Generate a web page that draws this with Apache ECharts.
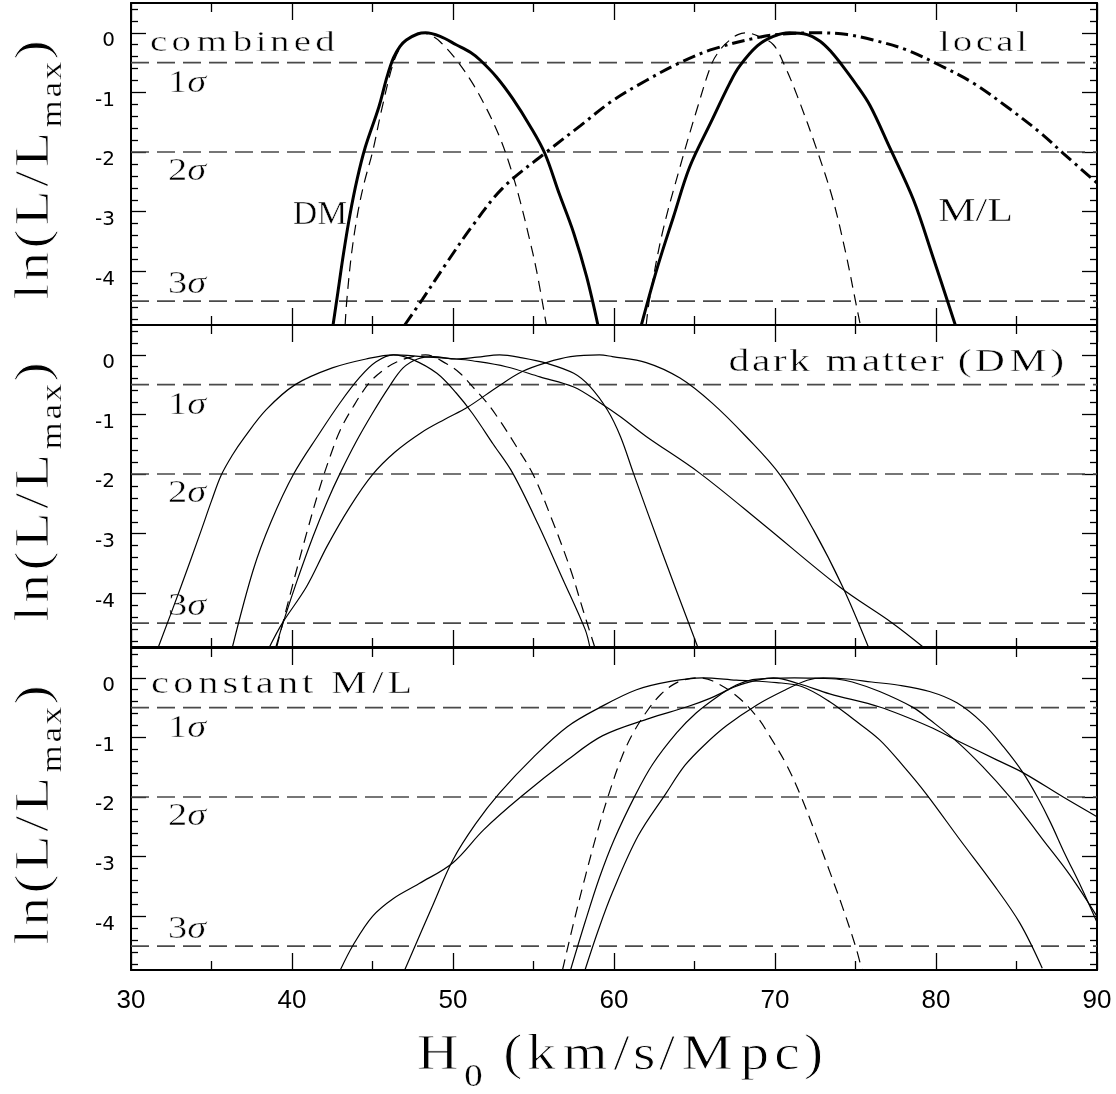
<!DOCTYPE html>
<html><head><meta charset="utf-8">
<script src="https://cdn.jsdelivr.net/npm/echarts@6.0.0/dist/echarts.min.js"></script>
<style>html,body{margin:0;padding:0;background:#fff}#c{width:1116px;height:1094px}</style>
</head><body><div id="c"></div>
<script>
// ---------- tick labels ----------
const xTickLabels = ['30','40','50','60','70','80','90'];
const yTickValues = [0,-1,-2,-3,-4];
const yTickLabels = ['0','-1','-2','-3','-4'];
const yMinorTicks = [0.4,0.2,-0.2,-0.4,-0.6,-0.8,-1.2,-1.4,-1.6,-1.8,-2.2,-2.4,-2.6,-2.8,-3.2,-3.4,-3.6,-3.8,-4.2,-4.4,-4.6,-4.8];
const sigmaLevels = [-0.5,-2,-4.5];
const sigmaNames = ['1','2','3'];

// ---------- top panel: combined / local ----------
const topDMCombined = [[42.55,-4.9],[42.85,-4.35],[43.2,-3.7],[43.6,-3.05],[44.05,-2.45],[44.55,-1.92],[45.4,-1.24],[45.9,-0.74],[46.3,-0.42],[46.7,-0.23],[47.1,-0.12],[47.8,-0.02],[48.3,0],[49.2,-0.06],[50.2,-0.2],[51.1,-0.33],[51.7,-0.46],[52.7,-0.74],[53.7,-1.1],[54.8,-1.57],[55.7,-2.02],[56.6,-2.7],[57.5,-3.36],[58.3,-4.09],[59.0,-4.9]];
const topDMDash = [[43.3,-4.9],[43.4,-4.5],[43.7,-3.7],[44.1,-3.0],[44.5,-2.5],[45.0,-2.0],[45.6,-1.25],[46.3,-0.5],[46.8,-0.22],[47.4,-0.06],[48.0,0],[48.6,-0.04],[49.2,-0.15],[50.2,-0.45],[51.2,-0.84],[52.1,-1.28],[52.9,-1.75],[53.5,-2.2],[54.1,-2.75],[54.7,-3.4],[55.2,-4.0],[55.8,-4.9]];
const topLocal = [[47.0,-4.9],[48.1,-4.47],[49.6,-3.86],[51.2,-3.24],[53.1,-2.6],[55.8,-2.0],[57.9,-1.56],[59.9,-1.14],[62.0,-0.8],[64.1,-0.5],[66.2,-0.27],[69.1,-0.07],[71.0,-0.01],[72.8,0],[74.5,-0.03],[76.1,-0.12],[78.2,-0.29],[80.2,-0.54],[82.3,-0.84],[84.4,-1.24],[86.5,-1.68],[87.9,-2.02],[90,-2.52]];
const topMLCombined = [[61.7,-4.9],[62.7,-3.93],[63.7,-3.08],[64.7,-2.25],[66.0,-1.51],[67.2,-0.84],[67.8,-0.56],[68.9,-0.22],[69.9,-0.06],[70.9,0],[72.0,-0.03],[72.8,-0.14],[73.5,-0.32],[74.1,-0.52],[75.0,-0.85],[75.9,-1.22],[77.1,-1.91],[78.6,-2.8],[79.8,-3.75],[81.2,-4.9]];
const topMLDash = [[62.0,-4.9],[62.2,-4.48],[63.0,-3.36],[64.1,-2.25],[65.2,-1.24],[66.1,-0.5],[66.7,-0.25],[67.2,-0.12],[67.7,-0.03],[68.2,0],[69.0,-0.06],[69.9,-0.2],[70.6,-0.55],[71.4,-1.07],[72.6,-1.96],[73.6,-2.8],[74.4,-3.7],[75.0,-4.5],[75.3,-4.9]];

// ---------- middle panel: dark matter ----------
const midA = [[31.7,-4.9],[33.1,-3.89],[34.3,-2.99],[35.0,-2.45],[35.6,-2.02],[36.3,-1.68],[37.0,-1.4],[38.4,-0.92],[40.2,-0.5],[42.5,-0.22],[44.6,-0.07],[46.3,0],[48.1,-0.03],[50.2,-0.07],[51.2,-0.1],[53.3,-0.2],[55.4,-0.37],[57.5,-0.54],[59.1,-0.8],[60.4,-1.04],[62.0,-1.37],[65.3,-1.98],[69.3,-2.85],[74.0,-3.89],[77.3,-4.5],[79.2,-4.9]];
const midB = [[36.3,-4.9],[37.6,-3.6],[38.7,-2.8],[40.1,-2.0],[41.7,-1.32],[43.0,-0.8],[44.2,-0.38],[45.2,-0.12],[46.3,0],[47.5,-0.08],[49.0,-0.31],[50.2,-0.64],[51.2,-0.98],[52.5,-1.5],[53.7,-1.98],[55.3,-2.85],[56.8,-3.75],[58.2,-4.6],[58.5,-4.9]];
const midDash = [[39.05,-4.9],[40.0,-3.9],[40.9,-3.0],[41.7,-2.25],[42.4,-1.68],[43.0,-1.26],[43.8,-0.87],[44.8,-0.47],[45.7,-0.25],[46.5,-0.12],[47.5,-0.03],[48.3,0],[49.6,-0.15],[50.4,-0.3],[51.2,-0.53],[52.1,-0.8],[52.9,-1.1],[53.9,-1.52],[55.0,-2.02],[56.2,-2.8],[57.3,-3.6],[58.1,-4.3],[58.8,-4.9]];
const midC = [[39.0,-4.9],[39.5,-4.45],[40.3,-3.8],[41.3,-3.05],[42.2,-2.45],[43.0,-1.98],[44.0,-1.45],[45.0,-0.98],[46.0,-0.55],[46.9,-0.22],[47.8,-0.07],[48.8,-0.03],[50.2,-0.07],[51.5,-0.04],[52.9,0],[54.3,-0.05],[55.8,-0.14],[57.5,-0.31],[58.5,-0.53],[59.6,-0.93],[60.4,-1.37],[61.2,-1.98],[63.0,-3.32],[65.2,-4.9]];
const midD = [[38.6,-4.9],[39.4,-4.5],[40.9,-3.89],[42.2,-3.2],[43.6,-2.55],[45.0,-2.01],[46.4,-1.63],[48.0,-1.31],[49.5,-1.08],[50.9,-0.88],[52.8,-0.53],[54.3,-0.28],[55.8,-0.13],[57.3,-0.03],[59.1,0],[59.9,-0.03],[62.0,-0.13],[64.1,-0.39],[66.1,-0.81],[68.2,-1.37],[70.3,-2.01],[72.4,-2.94],[74.2,-3.89],[75.8,-4.9]];

// ---------- bottom panel: constant M/L ----------
const botE = [[43.0,-4.9],[43.8,-4.48],[45.0,-4.0],[46.3,-3.7],[47.9,-3.45],[50.0,-3.1],[51.9,-2.55],[54.2,-2.0],[57.1,-1.38],[59.3,-0.97],[62.2,-0.68],[64.5,-0.49],[66.0,-0.34],[67.6,-0.14],[68.9,-0.04],[69.9,0],[71.5,-0.1],[73.4,-0.27],[76.5,-0.49],[79.6,-0.82],[81.3,-1.05],[83.8,-1.38],[85.4,-1.59],[87.9,-2.0],[90,-2.33]];
const botF = [[47.0,-4.9],[48.8,-3.78],[50.0,-3.05],[51.4,-2.45],[52.9,-1.93],[55.0,-1.33],[57.1,-0.82],[59.1,-0.5],[61.4,-0.2],[63.5,-0.06],[65.5,0],[67.6,-0.04],[70.1,-0.08],[71.7,-0.15],[73.4,-0.4],[74.9,-0.7],[76.5,-1.04],[78.0,-1.49],[79.4,-1.95],[81.5,-2.72],[83.5,-3.44],[85.2,-4.11],[86.6,-4.87]];
const botG = [[57.3,-4.9],[58.2,-4.1],[59.1,-3.35],[60.0,-2.72],[61.3,-1.98],[62.4,-1.45],[63.9,-0.92],[65.1,-0.59],[66.4,-0.32],[67.6,-0.12],[68.6,-0.03],[69.6,-0.01],[71.2,0],[72.8,-0.01],[73.8,-0.02],[74.8,-0.07],[76.5,-0.23],[78.6,-0.5],[79.6,-0.7],[81.3,-1.07],[82.9,-1.49],[84.6,-2.0],[85.7,-2.38],[86.6,-2.7],[88.3,-3.3],[90,-4.0]];
const botH = [[58.2,-4.9],[59.0,-4.25],[59.9,-3.6],[61.5,-2.65],[63.2,-1.95],[64.4,-1.47],[65.6,-1.13],[67.0,-0.8],[68.9,-0.45],[70.5,-0.22],[72.0,-0.04],[73.0,0],[74.5,-0.02],[76.0,-0.07],[77.6,-0.12],[79.6,-0.23],[81.3,-0.42],[82.9,-0.76],[84.2,-1.16],[85.4,-1.59],[86.3,-2.0],[87.1,-2.42],[88.0,-2.95],[89.0,-3.5],[90,-4.1]];
const botDash = [[56.8,-4.9],[57.5,-4.1],[58.2,-3.35],[59.0,-2.55],[59.8,-1.85],[60.5,-1.32],[61.2,-0.92],[62.1,-0.54],[62.9,-0.28],[63.7,-0.11],[64.4,-0.03],[65.1,0],[66.1,-0.05],[67.6,-0.3],[68.9,-0.66],[69.7,-0.99],[70.7,-1.45],[71.6,-1.98],[72.5,-2.6],[73.4,-3.25],[74.2,-3.85],[75.0,-4.5],[75.4,-4.9]];

// ---------- layout ----------
const GRID_LEFT = 131, GRID_W = 966, GRID_H = 322;
const gridTops = [3, 325, 648];
const Y_MIN = -4.9, Y_MAX = 0.5;

const THICK = {width:3, type:'solid'};
const DASHDOT = {width:3, type:[13,5,3,5]};
const THINSOLID = {width:1.2, type:'solid'};
const THINDASH = {width:1.2, type:[11,7]};

const panelCurves = [
  [[topDMCombined,THICK],[topDMDash,THINDASH],[topLocal,DASHDOT],[topMLCombined,THICK],[topMLDash,THINDASH]],
  [[midA,THINSOLID],[midB,THINSOLID],[midDash,THINDASH],[midC,THINSOLID],[midD,THINSOLID]],
  [[botE,THINSOLID],[botF,THINSOLID],[botG,THINSOLID],[botH,THINSOLID],[botDash,THINDASH]]
];

const grids = [], xAxes = [], yAxes = [], series = [];
gridTops.forEach((top, g) => {
  grids.push({left:GRID_LEFT, top:top, width:GRID_W, height:GRID_H, containLabel:false});
  ['bottom','top'].forEach(pos => {
    xAxes.push({
      gridIndex:g, type:'value', min:30, max:90, interval:10, position:pos,
      axisLine:{show:true, onZero:false, lineStyle:{color:'#000', width:2}},
      axisTick:{show:true, inside:true, length:17, lineStyle:{color:'#000', width:1.3}},
      minorTick:{show:true, splitNumber:2, length:9, lineStyle:{color:'#000', width:1.3}},
      axisLabel:{show:(g===2 && pos==='bottom'), margin:18, fontFamily:'Liberation Sans', fontSize:26, color:'#000',
        formatter:v => xTickLabels[Math.round((v-30)/10)]},
      splitLine:{show:false}, minorSplitLine:{show:false}
    });
  });
  ['left','right'].forEach(pos => {
    yAxes.push({
      gridIndex:g, type:'value', min:Y_MIN, max:Y_MAX, position:pos, offset:0,
      axisLine:{show:true, onZero:false, lineStyle:{color:'#000', width:2}},
      axisTick:{show:true, inside:true, length:15, customValues:yTickValues, lineStyle:{color:'#000', width:1.3}},
      axisLabel:{show:pos==='left', customValues:yTickValues, margin:16, fontFamily:'DejaVu Sans', fontSize:20, color:'#000',
        verticalAlign:'top', lineHeight:16,
        formatter:v => { const i = yTickValues.findIndex(t => Math.abs(t - v) < 1e-6); return i >= 0 ? yTickLabels[i] : ''; }},
      splitLine:{show:false}
    });
    yAxes.push({
      gridIndex:g, type:'value', min:Y_MIN, max:Y_MAX, position:pos, offset:0,
      axisLine:{show:false},
      axisTick:{show:true, inside:true, length:7, customValues:yMinorTicks, lineStyle:{color:'#000', width:1.3}},
      axisLabel:{show:false}, splitLine:{show:false}
    });
  });
  sigmaLevels.forEach(lv => {
    series.push({type:'line', xAxisIndex:2*g, yAxisIndex:4*g, data:[[30,lv],[90,lv]], showSymbol:false, silent:true,
      z:1, lineStyle:{color:'#4a4a4a', width:1.6, type:[18,8]}});
  });
  panelCurves[g].forEach(([d, st]) => {
    series.push({type:'line', xAxisIndex:2*g, yAxisIndex:4*g, data:d, showSymbol:false, silent:true, smooth:0.35,
      z:3, lineStyle:{color:'#000', width:st.width, type:st.type}});
  });
});

// ---------- spaced, lightly thinned text helpers ----------
const mctx = document.createElement('canvas').getContext('2d');
function tw(t, size, fam, italic){ mctx.font = (italic?'italic ':'') + size + 'px "' + fam + '"'; return mctx.measureText(t).width; }
const SERIF = 'Liberation Serif';
function run(parts, x, y, targetW, rotation, centered, gMax){
  const glyphs = [];
  let W = 0;
  parts.forEach(p => {
    Array.from(p.t).forEach(ch => {
      const w = tw(ch, p.size, p.fam||SERIF, p.italic);
      glyphs.push({ch, w, p}); W += w;
    });
  });
  const s = targetW / W;
  const g = Math.min(s, gMax || 1.3);
  let cx = centered ? -targetW/2 : 0;
  const fills = [], strokes = [];
  glyphs.forEach(q => {
    const slot = q.w * s;
    if (q.ch !== ' ') {
      const base = {fontSize:q.p.size, fontFamily:q.p.fam||SERIF, fontStyle:q.p.italic?'italic':'normal',
        text:q.ch, align:'center', verticalAlign:'middle'};
      const px = cx + slot/2, py = (q.p.dy||0) - 0.34*q.p.size;
      fills.push({type:'text', x:px, y:py, scaleX:g, z2:1, style:Object.assign({fill:'#000'}, base)});
      if (q.p.thin) strokes.push({type:'text', x:px, y:py, scaleX:g, z2:2, style:Object.assign({fill:'none', stroke:'#fff', lineWidth:q.p.thin}, base)});
    }
    cx += slot;
  });
  return {type:'group', x:x, y:y, rotation:rotation||0, children:fills.concat(strokes), silent:true, z:50};
}

const graphics = [];
graphics.push(run([{t:'combined', size:30, thin:0.45}], 148, 53, 189));
graphics.push(run([{t:'local', size:30, thin:0.45}], 938, 53, 90));
graphics.push(run([{t:'DM', size:33, thin:0.5}], 293, 227, 54));
graphics.push(run([{t:'M/L', size:33, thin:0.5}], 938, 224, 75));
graphics.push(run([{t:'dark matter (DM)', size:32, thin:0.45}], 727, 373, 338));
graphics.push(run([{t:'constant M/L', size:31, thin:0.45}], 149, 695, 266));
const sigmaOffsets = [62, 150, 263];
gridTops.forEach(top => {
  const y0 = top + 0.5/(Y_MAX-Y_MIN)*GRID_H;
  sigmaNames.forEach((n, i) => {
    graphics.push(run([{t:n, size:31, thin:0.45},{t:'σ', size:31, italic:true, thin:0.45}], 168, y0 + sigmaOffsets[i], 38));
  });
  graphics.push(run([{t:'ln(L/L', size:48, thin:0.85},{t:'max', size:29, dy:11, thin:0.25},{t:')', size:48, thin:0.85}], 52, top + 167, 262, Math.PI/2, true, 1.2));
});
graphics.push(run([{t:'H', size:50, thin:0.85},{t:'0', size:32, dy:15, thin:0.25},{t:' (km/s/Mpc)', size:50, thin:0.85}], 413, 1073, 412, 0, false, 1.15));

const chart = echarts.init(document.getElementById('c'), null, {renderer:'canvas'});
chart.setOption({
  animation:false, backgroundColor:'#fff',
  grid:grids, xAxis:xAxes, yAxis:yAxes, series:series,
  graphic:{elements:graphics}
});
</script></body></html>
